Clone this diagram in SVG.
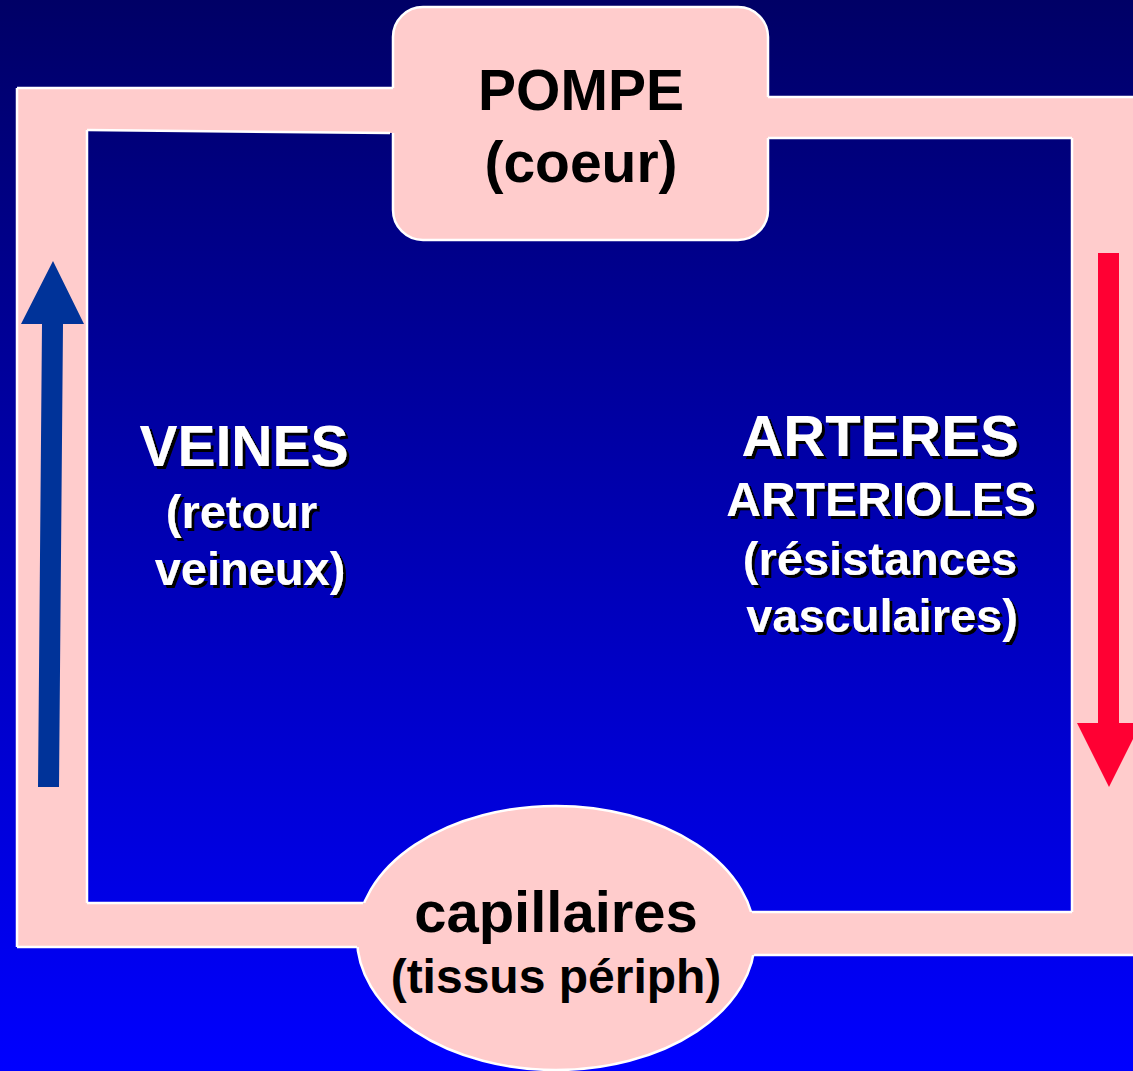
<svg xmlns="http://www.w3.org/2000/svg" width="1133" height="1071" viewBox="0 0 1133 1071">
<defs>
<linearGradient id="bg" x1="0" y1="0" x2="0" y2="1">
<stop offset="0" stop-color="#000066"/>
<stop offset="1" stop-color="#0000FF"/>
</linearGradient>
<filter id="shadow" x="-10%" y="-20%" width="120%" height="140%">
<feDropShadow dx="3" dy="3" stdDeviation="0.4" flood-color="#000000" flood-opacity="1"/>
</filter>
<style>
.node{fill:#FFCCCC;stroke:#FFFFFF;stroke-width:2.5}
.tube{fill:#FFCCCC;stroke:none}
.edge{stroke:#FFFFFF;stroke-width:2.5;fill:none}
.t{font-family:"Liberation Sans",Arial,sans-serif;font-weight:bold;text-anchor:middle}
.dark{fill:#000000}
.lab{fill:#FFFFFF;filter:url(#shadow)}
</style>
</defs>
<rect x="0" y="0" width="1133" height="1071" fill="url(#bg)"/>

<g id="pompe">
<rect class="node" x="393" y="7" width="375" height="233" rx="30" ry="30"/>
<text class="t dark" x="581" y="110" font-size="57">POMPE</text>
<text class="t dark" x="581" y="182" font-size="57">(coeur)</text>
</g>

<g id="capillaires">
<ellipse class="node" cx="556" cy="938" rx="199" ry="132"/>
<text class="t dark" x="556" y="932" font-size="58">capillaires</text>
<text class="t dark" x="556" y="993" font-size="48">(tissus périph)</text>
</g>

<g id="connectors">
<g id="veines-tube">
<polygon class="tube" points="17,88 396,88 396,133 87,130 87,903 366,903 366,947 17,947"/>
<line class="edge" x1="17" y1="88" x2="393" y2="88"/>
<line class="edge" x1="17" y1="88" x2="17" y2="947"/>
<line class="edge" x1="17" y1="947" x2="357" y2="947"/>
<line class="edge" x1="87" y1="130" x2="390" y2="133"/>
<line class="edge" x1="87" y1="130" x2="87" y2="903"/>
<line class="edge" x1="87" y1="903" x2="363" y2="903"/>
</g>
<g id="arteres-tube">
<polygon class="tube" points="765,97 1133,97 1133,955 749,955 749,912 1072,912 1072,138 765,138"/>
<line class="edge" x1="768" y1="97" x2="1133" y2="97"/>
<line class="edge" x1="768" y1="138" x2="1072" y2="138"/>
<line class="edge" x1="1072" y1="138" x2="1072" y2="912"/>
<line class="edge" x1="752" y1="912" x2="1072" y2="912"/>
<line class="edge" x1="754" y1="955" x2="1133" y2="955"/>
</g>
<polygon id="arrow-veines" fill="#003399" points="53,261 84,324 63,324 59,787 38,787 42,324 21,324"/>
<polygon id="arrow-arteres" fill="#FF0033" points="1098,253 1119,253 1119,723 1141,723 1109,787 1077,723 1098,723"/>
</g>

<g id="veines">
<text class="t lab" x="244" y="466" font-size="57">VEINES</text>
<text class="t lab" x="241.5" y="528" font-size="47">(retour</text>
<text class="t lab" x="250" y="585" font-size="47">veineux)</text>
</g>

<g id="arteres">
<text class="t lab" x="880" y="456" font-size="58">ARTERES</text>
<text class="t lab" x="881" y="516" font-size="48">ARTERIOLES</text>
<text class="t lab" x="880" y="575" font-size="47">(résistances</text>
<text class="t lab" x="882" y="632" font-size="47">vasculaires)</text>
</g>
</svg>
